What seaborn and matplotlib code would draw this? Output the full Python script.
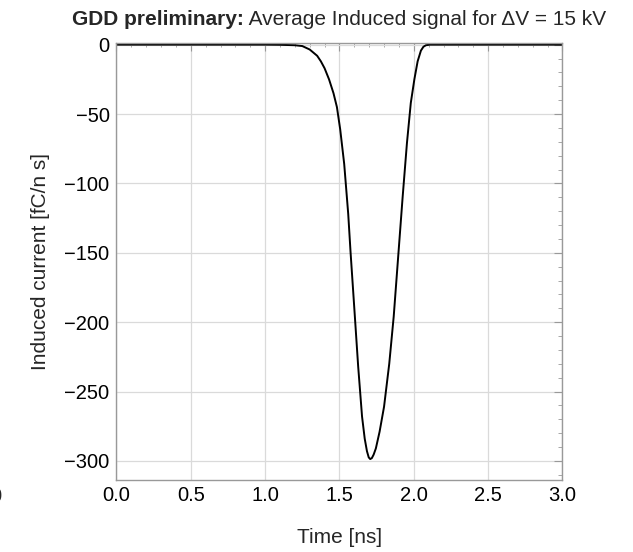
import numpy as np
import pandas as pd
import seaborn as sns
import matplotlib.pyplot as plt
from matplotlib.ticker import MultipleLocator, FormatStrFormatter
from matplotlib.transforms import offset_copy

# values (time in ns, current in fC/ns)
time_ns = [0.0, 0.5, 1.0, 1.1, 1.2, 1.25, 1.3, 1.35, 1.375, 1.4, 1.43, 1.46,
           1.483, 1.505, 1.532, 1.559, 1.575, 1.60, 1.626, 1.652, 1.67, 1.685,
           1.697, 1.707, 1.718, 1.73, 1.745, 1.77, 1.80, 1.835, 1.865, 1.895,
           1.925, 1.954, 1.98, 2.004, 2.026, 2.048, 2.065, 2.082, 2.11, 2.5, 3.0]
current = [0.0, 0.0, 0.0, -0.1, -0.4, -1.0, -3.5, -8.0, -12.0, -17.0, -25.0, -35.0,
           -45.0, -61.0, -86.0, -122.0, -150.0, -190.0, -232.0, -268.0, -284.0, -293.0,
           -297.5, -298.7, -298.0, -295.5, -291.0, -279.0, -261.0, -230.0, -196.0, -153.0,
           -110.0, -71.0, -42.0, -25.0, -12.0, -4.3, -1.5, -0.4, 0.0, 0.0, 0.0]

title_bold = 'GDD preliminary:'
title_rest = ' Average Induced signal for \u0394V = 15 kV'

df = pd.DataFrame({'time': time_ns, 'current': current})

sns.set_style('white')
plt.rcParams['font.family'] = ['Liberation Sans', 'DejaVu Sans']

fig = plt.figure(figsize=(6.33, 5.52), dpi=100)
ax = fig.add_axes([0.184, 0.1304, 0.7045, 0.7917])

sns.lineplot(data=df, x='time', y='current', color='black', linewidth=1.4, ax=ax)

ax.set_xlim(0, 3)
ax.set_ylim(-313.8, 1.2)
ax.xaxis.set_major_locator(MultipleLocator(0.5))
ax.xaxis.set_minor_locator(MultipleLocator(0.1))
ax.yaxis.set_major_locator(MultipleLocator(50))
ax.yaxis.set_minor_locator(MultipleLocator(10))
ax.xaxis.set_major_formatter(FormatStrFormatter('%.1f'))

ax.grid(True, which='major', color='#dadada', linewidth=0.9)
ax.tick_params(which='both', direction='in', top=True, right=True,
               color='#999999', labelsize=14.5, labelcolor='black')
ax.tick_params(axis='x', pad=4.3)
ax.tick_params(axis='y', pad=5)
ax.tick_params(which='major', length=6, width=0.8)
ax.tick_params(which='minor', length=3, width=0.6)
for s in ax.spines.values():
    s.set_color('#999999')
    s.set_linewidth(1)

ax.set_xlabel('Time [ns]', fontsize=15)
ax.set_ylabel('Induced current [fC/n s]', fontsize=15)
ax.xaxis.set_label_coords(0.5, -0.110)
ax.yaxis.set_label_coords(-0.149, 0.5)

# title in two parts: bold prefix, then normal text
t1 = fig.text(72 / 633, 1 - 25 / 552, title_bold, fontsize=15,
              fontweight='bold', ha='left', va='baseline')
fig.canvas.draw()
w = t1.get_window_extent().width
fig.text(72 / 633, 1 - 25 / 552, title_rest, fontsize=15, ha='left', va='baseline',
         transform=offset_copy(fig.transFigure, fig=fig, x=w, y=0, units='dots'))

# cut-off label at left edge
fig.text(-4 / 633, 1 - 496 / 552, '0', fontsize=14.5, ha='center', va='center')

fig.savefig('out.png', dpi=100)
